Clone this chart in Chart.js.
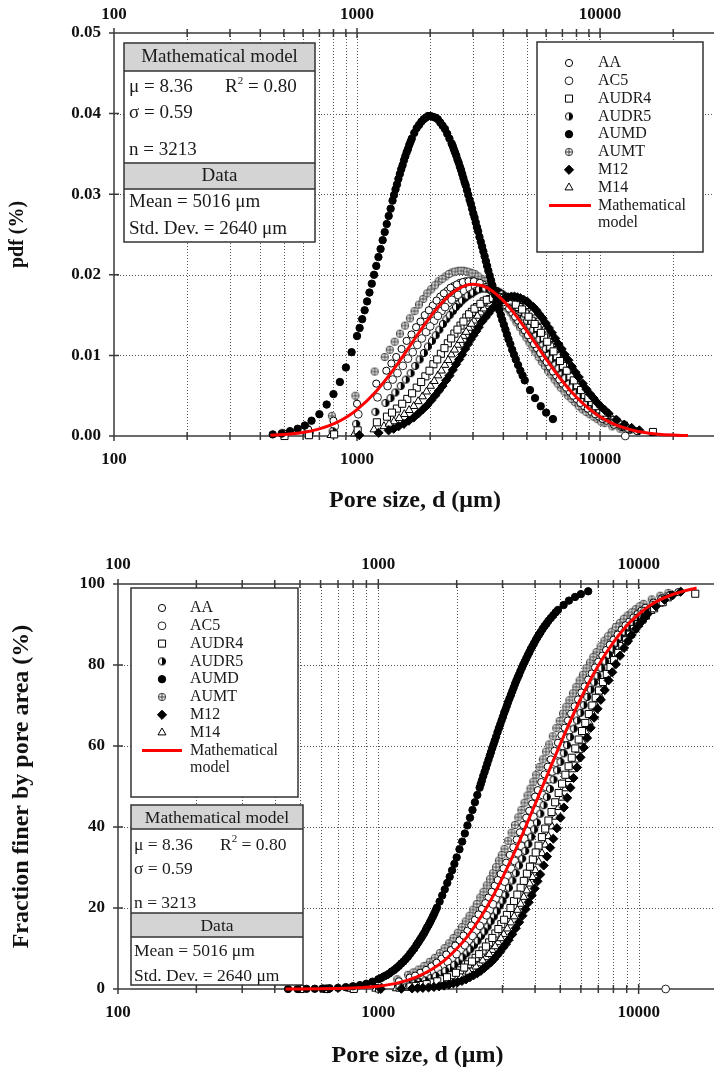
<!DOCTYPE html>
<html>
<head>
<meta charset="utf-8">
<script src="https://cdn.jsdelivr.net/npm/chart.js@4.4.1/dist/chart.umd.min.js"></script>
<style>
  html, body { margin: 0; padding: 0; background: #fff; }
  body { width: 714px; height: 1070px; overflow: hidden; position: relative; }
  .panel { position: absolute; left: 0; }
  #pdfPanel { top: 0; }
  #cdfPanel { top: 540px; }
</style>
</head>
<body>
<div class="panel" id="pdfPanel"><canvas id="pdfChart" width="730" height="530"></canvas></div>
<div class="panel" id="cdfPanel"><canvas id="cdfChart" width="730" height="530"></canvas></div>
<script>
// pore sizes (um) of each sample, with pdf (%) and cumulative fraction finer (%)
const aumtD = [493, 621, 788, 985, 1182, 1300, 1428, 1576, 1724, 1872, 2019, 2167, 2315, 2463, 2610, 2758, 2906, 3054, 3251, 3448, 3645, 3842, 4039, 4285, 4531, 4827, 5122, 5418, 5762, 6107, 6501, 6895, 7388, 7880, 8471, 9062, 9752, 10441, 11229, 12116, 13002,
  1364, 1502, 1650, 1798, 1945, 2093, 2241, 2389, 2536, 2684, 2832, 2980, 3152, 3349, 3546, 3743, 3940, 4162, 4408, 4679, 4974, 5270, 5590, 5935, 6304, 6698, 7141, 7634, 8176, 8767, 9407, 10096];
const aumtPdf = [0.0004, 0.0010, 0.0025, 0.0050, 0.0080, 0.0098, 0.0117, 0.0137, 0.0155, 0.0170, 0.0182, 0.0192, 0.0198, 0.0203, 0.0205, 0.0205, 0.0203, 0.0201, 0.0195, 0.0189, 0.0181, 0.0172, 0.0164, 0.0153, 0.0141, 0.0128, 0.0116, 0.0104, 0.0092, 0.0081, 0.0070, 0.0060, 0.0050, 0.0042, 0.0033, 0.0027, 0.0021, 0.0016, 0.0012, 0.0009, 0.0007,
  0.0107, 0.0127, 0.0146, 0.0163, 0.0177, 0.0187, 0.0195, 0.0201, 0.0204, 0.0205, 0.0204, 0.0202, 0.0198, 0.0192, 0.0185, 0.0177, 0.0168, 0.0158, 0.0147, 0.0135, 0.0122, 0.0110, 0.0098, 0.0087, 0.0076, 0.0065, 0.0055, 0.0046, 0.0037, 0.0030, 0.0024, 0.0018];
const aumtCdf = [0.03, 0.11, 0.40, 1.1, 2.4, 3.5, 4.8, 6.7, 8.9, 11.3, 13.9, 16.7, 19.6, 22.6, 25.6, 28.6, 31.7, 34.6, 38.6, 42.4, 46.0, 49.5, 52.9, 56.7, 60.4, 64.4, 68.0, 71.3, 74.6, 77.6, 80.6, 83.2, 86.0, 88.2, 90.4, 92.2, 93.8, 95.1, 96.2, 97.1, 97.8,
  4.1, 5.7, 7.7, 10.1, 12.6, 15.3, 18.1, 21.0, 24.0, 27.1, 30.1, 33.1, 36.6, 40.5, 44.2, 47.8, 51.2, 54.8, 58.6, 62.4, 66.2, 69.7, 73.0, 76.2, 79.2, 82.0, 84.6, 87.1, 89.4, 91.4, 93.0, 94.5];

const aaD = [500, 630, 800, 1000, 1200, 1320, 1450, 1600, 1750, 1900, 2050, 2200, 2350, 2500, 2650, 2800, 2950, 3100, 3300, 3500, 3700, 3900, 4100, 4350, 4600, 4900, 5200, 5500, 5850, 6200, 6600, 7000, 7500, 8000, 8600, 9200, 9900, 10600, 11400, 12300, 13200, 14200,
  1385, 1525, 1675, 1825, 1975, 2125, 2275, 2425, 2575, 2725, 2875, 3025, 3200, 3400, 3600, 3800, 4000, 4225, 4475, 4750, 5050, 5350, 5675, 6025, 6400, 6800, 7250, 7750, 8300, 8900, 9550, 10250];
const aaPdf = [0.0003, 0.0008, 0.0019, 0.0040, 0.0065, 0.0081, 0.0098, 0.0118, 0.0135, 0.0150, 0.0162, 0.0173, 0.0180, 0.0186, 0.0190, 0.0192, 0.0192, 0.0191, 0.0188, 0.0183, 0.0177, 0.0170, 0.0162, 0.0153, 0.0143, 0.0131, 0.0120, 0.0109, 0.0097, 0.0086, 0.0075, 0.0065, 0.0055, 0.0046, 0.0037, 0.0030, 0.0024, 0.0019, 0.0014, 0.0011, 0.0008, 0.0006,
  0.0090, 0.0108, 0.0126, 0.0142, 0.0156, 0.0168, 0.0177, 0.0184, 0.0188, 0.0191, 0.0192, 0.0192, 0.0190, 0.0185, 0.0180, 0.0174, 0.0166, 0.0158, 0.0148, 0.0137, 0.0125, 0.0114, 0.0103, 0.0092, 0.0080, 0.0070, 0.0060, 0.0050, 0.0041, 0.0034, 0.0027, 0.0021];
const aaCdf = [0.02, 0.08, 0.30, 0.88, 1.9, 2.8, 4.0, 5.6, 7.5, 9.6, 12.0, 14.4, 17.1, 19.8, 22.6, 25.5, 28.4, 31.2, 35.0, 38.7, 42.3, 45.8, 49.1, 53.0, 56.7, 60.8, 64.5, 68.0, 71.5, 74.7, 77.9, 80.8, 83.7, 86.2, 88.7, 90.7, 92.6, 94.1, 95.4, 96.5, 97.3, 98.0,
  3.3, 4.7, 6.5, 8.5, 10.7, 13.2, 15.7, 18.4, 21.2, 24.0, 26.9, 29.8, 33.1, 36.9, 40.5, 44.0, 47.5, 51.1, 54.9, 58.8, 62.7, 66.3, 69.8, 73.2, 76.4, 79.4, 82.3, 85.0, 87.5, 89.8, 91.7, 93.4];

const ac5D = [638, 810, 1012, 1214, 1336, 1467, 1619, 1771, 1923, 2075, 2226, 2378, 2530, 2682, 2834, 2985, 3137, 3340, 3542, 3744, 3947, 4149, 4402, 4655, 4959, 5262, 5566, 5920, 6274, 6679, 7084, 7590, 8096, 8703, 9310, 10019, 10727, 11537, 12448, 13358, 12700,
  1402, 1543, 1695, 1847, 1999, 2151, 2302, 2454, 2606, 2758, 2910, 3061, 3238, 3441, 3643, 3846, 4048, 4276, 4529, 4807, 5111, 5414, 5743, 6097, 6477, 6882, 7337, 7843, 8400, 9007, 9665, 10373];
const ac5Pdf = [0.0004, 0.0012, 0.0027, 0.0048, 0.0062, 0.0078, 0.0096, 0.0113, 0.0129, 0.0143, 0.0155, 0.0165, 0.0172, 0.0178, 0.0182, 0.0184, 0.0185, 0.0184, 0.0181, 0.0177, 0.0171, 0.0165, 0.0157, 0.0147, 0.0136, 0.0125, 0.0114, 0.0102, 0.0091, 0.0080, 0.0070, 0.0058, 0.0049, 0.0040, 0.0032, 0.0025, 0.0020, 0.0015, 0.0011, 0.0008, 0,
  0.0070, 0.0087, 0.0104, 0.0121, 0.0136, 0.0149, 0.0160, 0.0169, 0.0175, 0.0180, 0.0183, 0.0185, 0.0185, 0.0183, 0.0179, 0.0174, 0.0168, 0.0161, 0.0152, 0.0142, 0.0131, 0.0120, 0.0108, 0.0097, 0.0085, 0.0075, 0.0064, 0.0054, 0.0044, 0.0036, 0.0029, 0.0022];
const ac5Cdf = [0.04, 0.17, 0.56, 1.3, 2.0, 2.9, 4.2, 5.8, 7.6, 9.7, 11.9, 14.4, 16.9, 19.5, 22.3, 25.1, 27.9, 31.6, 35.3, 38.9, 42.5, 45.9, 49.9, 53.7, 58.0, 61.9, 65.7, 69.4, 72.8, 76.3, 79.3, 82.6, 85.3, 88.0, 90.1, 92.1, 93.8, 95.2, 96.3, 97.2, 0,
  2.4, 3.5, 5.0, 6.7, 8.6, 10.8, 13.1, 15.6, 18.2, 20.9, 23.7, 26.5, 29.7, 33.5, 37.1, 40.7, 44.2, 47.9, 51.8, 55.9, 60.0, 63.8, 67.6, 71.2, 74.6, 77.9, 81.0, 84.0, 86.7, 89.1, 91.2, 93.0];

const audr5D = [625, 794, 992, 1190, 1309, 1438, 1587, 1736, 1885, 2034, 2182, 2331, 2480, 2629, 2778, 2926, 3075, 3274, 3472, 3670, 3869, 4067, 4315, 4563, 4861, 5158, 5456, 5803, 6150, 6547, 6944, 7440, 7936, 8531, 9126, 9821, 10515, 11309, 12202, 13094,
  1374, 1513, 1662, 1810, 1959, 2108, 2257, 2406, 2554, 2703, 2852, 3001, 3174, 3373, 3571, 3770, 3968, 4191, 4439, 4712, 5010, 5307, 5630, 5977, 6349, 6746, 7192, 7688, 8234, 8829, 9474, 10168];
const audr5Pdf = [0.0002, 0.0006, 0.0015, 0.0030, 0.0041, 0.0054, 0.0070, 0.0087, 0.0103, 0.0118, 0.0132, 0.0145, 0.0155, 0.0164, 0.0171, 0.0176, 0.0180, 0.0183, 0.0183, 0.0181, 0.0178, 0.0173, 0.0167, 0.0159, 0.0148, 0.0137, 0.0126, 0.0114, 0.0102, 0.0090, 0.0079, 0.0066, 0.0056, 0.0045, 0.0037, 0.0029, 0.0022, 0.0017, 0.0012, 0.0009,
  0.0047, 0.0062, 0.0078, 0.0095, 0.0111, 0.0125, 0.0139, 0.0150, 0.0160, 0.0168, 0.0174, 0.0178, 0.0182, 0.0183, 0.0182, 0.0180, 0.0176, 0.0170, 0.0163, 0.0154, 0.0143, 0.0132, 0.0120, 0.0108, 0.0096, 0.0084, 0.0072, 0.0061, 0.0050, 0.0041, 0.0032, 0.0025];
const audr5Cdf = [0.01, 0.07, 0.26, 0.70, 1.1, 1.7, 2.7, 3.8, 5.2, 6.9, 8.8, 10.8, 13.1, 15.4, 17.9, 20.6, 23.2, 26.8, 30.5, 34.1, 37.6, 41.1, 45.4, 49.4, 54.0, 58.2, 62.2, 66.3, 70.1, 73.9, 77.3, 80.9, 83.9, 86.9, 89.3, 91.6, 93.4, 94.9, 96.2, 97.1,
  1.4, 2.1, 3.2, 4.5, 6.0, 7.8, 9.8, 11.9, 14.2, 16.7, 19.2, 21.8, 25.0, 28.6, 32.2, 35.8, 39.4, 43.3, 47.4, 51.7, 56.1, 60.2, 64.3, 68.2, 72.1, 75.7, 79.2, 82.5, 85.5, 88.2, 90.5, 92.5];

const audr4D = [503, 634, 805, 1006, 1207, 1328, 1459, 1610, 1761, 1911, 2062, 2213, 2364, 2515, 2666, 2817, 2968, 3119, 3320, 3521, 3722, 3923, 4125, 4376, 4628, 4929, 5231, 5533, 5885, 6237, 6640, 7042, 7545, 8048, 8652, 9255, 9959, 10664, 11468, 12374, 16500,
  1393, 1534, 1685, 1836, 1987, 2138, 2289, 2440, 2590, 2741, 2892, 3043, 3219, 3420, 3622, 3823, 4024, 4250, 4502, 4779, 5080, 5382, 5709, 6061, 6438, 6841, 7294, 7797, 8350, 8953, 9607, 10312];
const audr4Pdf = [0, 0.0001, 0.0002, 0.0007, 0.0017, 0.0024, 0.0034, 0.0046, 0.0060, 0.0074, 0.0089, 0.0102, 0.0115, 0.0127, 0.0137, 0.0147, 0.0154, 0.0160, 0.0167, 0.0170, 0.0172, 0.0172, 0.0170, 0.0166, 0.0160, 0.0152, 0.0143, 0.0134, 0.0122, 0.0111, 0.0099, 0.0087, 0.0074, 0.0063, 0.0051, 0.0042, 0.0033, 0.0026, 0.0020, 0.0014, 0.0005,
  0.0029, 0.0040, 0.0053, 0.0067, 0.0081, 0.0095, 0.0109, 0.0121, 0.0132, 0.0142, 0.0151, 0.0158, 0.0164, 0.0169, 0.0171, 0.0172, 0.0171, 0.0168, 0.0163, 0.0157, 0.0148, 0.0139, 0.0128, 0.0117, 0.0105, 0.0093, 0.0081, 0.0069, 0.0057, 0.0047, 0.0037, 0.0029];
const audr4Cdf = [0, 0, 0.03, 0.12, 0.35, 0.60, 0.97, 1.6, 2.4, 3.4, 4.6, 6.1, 7.7, 9.5, 11.5, 13.7, 16.0, 18.3, 21.7, 25.0, 28.5, 32.0, 35.4, 39.6, 43.7, 48.4, 52.9, 57.1, 61.6, 65.7, 70.0, 73.7, 77.8, 81.2, 84.7, 87.5, 90.1, 92.2, 94.0, 95.5, 97.6,
  0.76, 1.2, 1.9, 2.9, 4.0, 5.3, 6.8, 8.6, 10.5, 12.6, 14.8, 17.1, 20.0, 23.3, 26.7, 30.2, 33.7, 37.5, 41.6, 46.1, 50.7, 55.0, 59.4, 63.7, 67.9, 71.9, 75.8, 79.5, 83.0, 86.1, 88.9, 91.2];

const m14D = [782, 978, 1174, 1291, 1418, 1565, 1712, 1858, 2005, 2152, 2298, 2445, 2592, 2738, 2885, 3032, 3227, 3423, 3619, 3814, 4010, 4254, 4499, 4792, 5086, 5379, 5721, 6064, 6455, 6846, 7335, 7824, 8411, 8998, 9682, 10367, 11149, 12029, 12910,
  1355, 1491, 1638, 1785, 1932, 2078, 2225, 2372, 2518, 2665, 2812, 2958, 3130, 3325, 3521, 3716, 3912, 4132, 4377, 4646, 4939, 5232, 5550, 5892, 6259, 6650, 7091, 7580, 8117, 8704, 9340, 10025];
const m14Pdf = [0.0001, 0.0003, 0.0008, 0.0012, 0.0018, 0.0027, 0.0037, 0.0049, 0.0062, 0.0075, 0.0088, 0.0101, 0.0113, 0.0124, 0.0134, 0.0143, 0.0153, 0.0161, 0.0167, 0.0170, 0.0172, 0.0171, 0.0169, 0.0164, 0.0157, 0.0148, 0.0138, 0.0127, 0.0114, 0.0102, 0.0087, 0.0075, 0.0061, 0.0050, 0.0039, 0.0031, 0.0023, 0.0017, 0.0012,
  0.0015, 0.0022, 0.0032, 0.0043, 0.0055, 0.0068, 0.0081, 0.0094, 0.0107, 0.0119, 0.0129, 0.0139, 0.0149, 0.0158, 0.0164, 0.0169, 0.0171, 0.0172, 0.0171, 0.0167, 0.0161, 0.0153, 0.0143, 0.0132, 0.0120, 0.0108, 0.0094, 0.0081, 0.0068, 0.0055, 0.0044, 0.0035];
const m14Cdf = [0.01, 0.04, 0.13, 0.25, 0.43, 0.76, 1.2, 1.9, 2.7, 3.7, 4.9, 6.3, 7.8, 9.6, 11.5, 13.5, 16.4, 19.5, 22.7, 26.0, 29.3, 33.5, 37.7, 42.5, 47.2, 51.8, 56.6, 61.1, 65.8, 70.1, 74.7, 78.6, 82.6, 85.8, 88.8, 91.2, 93.3, 95.1, 96.4,
  0.33, 0.58, 0.97, 1.5, 2.2, 3.1, 4.2, 5.5, 7.0, 8.6, 10.5, 12.5, 14.9, 17.9, 21.0, 24.3, 27.6, 31.4, 35.6, 40.1, 44.9, 49.5, 54.2, 58.9, 63.5, 68.0, 72.4, 76.7, 80.7, 84.3, 87.4, 90.1];

const m12D = [1022, 1226, 1349, 1482, 1635, 1789, 1942, 2095, 2248, 2402, 2555, 2708, 2862, 3015, 3168, 3373, 3577, 3781, 3986, 4190, 4446, 4701, 5008, 5314, 5621, 5979, 6336, 6745, 7154, 7665, 8176, 8789, 9402, 10118, 10833, 11651, 12571, 13490, 14512,
  1415, 1559, 1712, 1865, 2018, 2172, 2325, 2478, 2632, 2785, 2938, 3092, 3270, 3475, 3679, 3884, 4088, 4318, 4573, 4855, 5161, 5468, 5800, 6158, 6541, 6950, 7410, 7921, 8483, 9096, 9760, 10476];
const m12Pdf = [0.0001, 0.0004, 0.0007, 0.0012, 0.0019, 0.0028, 0.0038, 0.0050, 0.0062, 0.0075, 0.0089, 0.0101, 0.0114, 0.0125, 0.0135, 0.0147, 0.0157, 0.0164, 0.0169, 0.0172, 0.0173, 0.0171, 0.0167, 0.0160, 0.0151, 0.0140, 0.0128, 0.0114, 0.0101, 0.0086, 0.0073, 0.0058, 0.0047, 0.0036, 0.0028, 0.0020, 0.0014, 0.0010, 0.0007,
  0.0009, 0.0015, 0.0023, 0.0033, 0.0044, 0.0056, 0.0069, 0.0082, 0.0095, 0.0108, 0.0120, 0.0130, 0.0142, 0.0152, 0.0161, 0.0167, 0.0171, 0.0173, 0.0172, 0.0169, 0.0163, 0.0156, 0.0146, 0.0134, 0.0121, 0.0108, 0.0094, 0.0079, 0.0065, 0.0052, 0.0041, 0.0032];
const m12Cdf = [0.02, 0.07, 0.14, 0.27, 0.50, 0.85, 1.4, 2.0, 2.9, 3.9, 5.2, 6.6, 8.3, 10.2, 12.1, 15.0, 18.1, 21.4, 24.8, 28.3, 32.7, 37.1, 42.3, 47.2, 52.1, 57.2, 62.0, 67.0, 71.4, 76.2, 80.2, 84.2, 87.4, 90.3, 92.6, 94.5, 96.1, 97.2, 98.1,
  0.20, 0.37, 0.66, 1.1, 1.7, 2.4, 3.4, 4.5, 5.9, 7.4, 9.2, 11.1, 13.5, 16.5, 19.7, 23.1, 26.6, 30.5, 34.9, 39.7, 44.8, 49.7, 54.7, 59.6, 64.5, 69.2, 73.8, 78.2, 82.3, 85.9, 88.9, 91.5];

const aumdD = [450, 490, 530, 570, 610, 650, 700, 750, 800, 850, 900, 950, 1000, 1050, 1100, 1150, 1200, 1250, 1300, 1350, 1400, 1440, 1480, 1520, 1560, 1600, 1640, 1680, 1720, 1760, 1800, 1840, 1880, 1920, 1960, 2000, 2050, 2100, 2150, 2200, 2250, 2300, 2350, 2400, 2450, 2500, 2560, 2620, 2680, 2740, 2800, 2870, 2940, 3010, 3080, 3150, 3230, 3310, 3390, 3470, 3560, 3650, 3750, 3850, 3960, 4080, 4200, 4350, 4500, 4700, 4900, 5150, 5400, 5700, 6000, 6400,
  1025, 1075, 1125, 1175, 1225, 1275, 1325, 1375, 1420, 1460, 1500, 1540, 1580, 1620, 1660, 2475, 2530, 2590, 2650, 2710, 2770, 2835, 2905, 2975, 3045, 3115, 3190, 3270, 3350, 3430, 3515, 3605, 3700, 3800, 3905, 4020, 4140, 4275, 4425, 4600, 4800];
const aumdPdf = [0.0002, 0.0003, 0.0006, 0.0009, 0.0013, 0.0019, 0.0027, 0.0039, 0.0052, 0.0067, 0.0085, 0.0104, 0.0124, 0.0145, 0.0167, 0.0189, 0.0211, 0.0232, 0.0253, 0.0273, 0.0292, 0.0306, 0.0319, 0.0331, 0.0342, 0.0352, 0.0361, 0.0369, 0.0376, 0.0382, 0.0386, 0.0390, 0.0393, 0.0395, 0.0397, 0.0397, 0.0396, 0.0395, 0.0393, 0.0389, 0.0385, 0.0381, 0.0375, 0.0369, 0.0363, 0.0356, 0.0348, 0.0339, 0.0330, 0.0320, 0.0311, 0.0299, 0.0288, 0.0276, 0.0265, 0.0254, 0.0241, 0.0229, 0.0217, 0.0205, 0.0193, 0.0181, 0.0168, 0.0156, 0.0144, 0.0132, 0.0120, 0.0107, 0.0095, 0.0081, 0.0069, 0.0057, 0.0047, 0.0037, 0.0029, 0.0021,
  0.0134, 0.0156, 0.0178, 0.0200, 0.0222, 0.0243, 0.0263, 0.0282, 0.0299, 0.0312, 0.0325, 0.0336, 0.0347, 0.0356, 0.0365, 0.0360, 0.0352, 0.0343, 0.0334, 0.0325, 0.0315, 0.0305, 0.0293, 0.0282, 0.0271, 0.0259, 0.0247, 0.0235, 0.0223, 0.0211, 0.0199, 0.0187, 0.0175, 0.0162, 0.0150, 0.0138, 0.0126, 0.0114, 0.0101, 0.0088, 0.0075];
const aumdCdf = [0, 0.02, 0.04, 0.06, 0.11, 0.17, 0.28, 0.45, 0.67, 0.96, 1.3, 1.8, 2.4, 3.1, 3.8, 4.7, 5.7, 6.8, 8.0, 9.4, 10.8, 12.0, 13.2, 14.5, 15.8, 17.2, 18.6, 20.1, 21.6, 23.1, 24.6, 26.2, 27.7, 29.3, 30.9, 32.5, 34.5, 36.4, 38.4, 40.4, 42.3, 44.2, 46.1, 47.9, 49.7, 51.5, 53.6, 55.6, 57.6, 59.5, 61.3, 63.4, 65.3, 67.2, 69.0, 70.8, 72.6, 74.4, 76.1, 77.6, 79.3, 80.8, 82.4, 83.9, 85.3, 86.8, 88.1, 89.6, 90.9, 92.3, 93.6, 94.8, 95.9, 96.8, 97.5, 98.2,
  2.7, 3.4, 4.3, 5.2, 6.3, 7.4, 8.7, 10.0, 11.4, 12.6, 13.8, 15.2, 16.5, 17.9, 19.4, 50.6, 52.6, 54.6, 56.6, 58.5, 60.4, 62.3, 64.4, 66.3, 68.2, 69.9, 71.7, 73.5, 75.3, 76.9, 78.5, 80.1, 81.6, 83.1, 84.6, 86.1, 87.5, 88.9, 90.2, 91.6, 93.0];

// fitted lognormal (mu = 8.36, sigma = 0.59)
const modelPdfD = [440, 500, 600, 700, 800, 900, 1000, 1200, 1400, 1600, 1800, 2000, 2200, 2500, 2800, 3000, 3300, 3600, 4000, 4500, 5000, 5500, 6000, 7000, 8000, 9000, 10000, 11000, 12000, 13500, 15000, 17000, 20000, 23000];
const modelPdf = [0.00009, 0.00018, 0.00044, 0.00088, 0.0015, 0.0023, 0.00327, 0.00556, 0.00807, 0.01057, 0.01284, 0.01477, 0.01632, 0.0179, 0.01868, 0.01883, 0.01861, 0.018, 0.0168, 0.01497, 0.01305, 0.01122, 0.00955, 0.0068, 0.0048, 0.00339, 0.00239, 0.0017, 0.00122, 0.00075, 0.00047, 0.00026, 0.00011, 0.00005];
const modelCdfD = [440, 500, 600, 700, 800, 900, 1000, 1200, 1400, 1600, 1800, 2000, 2200, 2500, 2800, 3000, 3300, 3600, 4000, 4500, 5000, 5500, 6000, 7000, 8000, 9000, 10000, 11000, 12000, 13500, 15000, 16700];
const modelCdf = [0.01, 0.01, 0.04, 0.11, 0.23, 0.41, 0.69, 1.57, 2.93, 4.80, 7.15, 9.92, 13.0, 18.2, 23.7, 27.5, 33.1, 38.6, 45.6, 53.5, 60.5, 66.6, 71.8, 79.9, 85.6, 89.7, 92.5, 94.6, 96.0, 97.4, 98.3, 99.0];

const seriesNames = ['AA', 'AC5', 'AUDR4', 'AUDR5', 'AUMD', 'AUMT', 'M12', 'M14'];
const decadeLabels = [100, 1000, 10000];
const pdfYTicks = [0, 0.01, 0.02, 0.03, 0.04, 0.05];
const cdfYTicks = [0, 20, 40, 60, 80, 100];

const statTitle = 'Mathematical model';
const statDataTitle = 'Data';
const statMu = 'μ = 8.36';
const statR2 = ['R', '2', ' = 0.80'];
const statSigma = 'σ = 0.59';
const statN = 'n = 3213';
const statMean = 'Mean = 5016 μm';
const statStd = 'Std. Dev. = 2640 μm';
const modelLabel = ['Mathematical', 'model'];

const serif = '"Liberation Serif", "Times New Roman", serif';
Chart.defaults.font.family = serif;
Chart.defaults.color = '#111';

function markerCanvas(draw) {
  const c = document.createElement('canvas');
  c.width = 10; c.height = 10;
  draw(c.getContext('2d'));
  return c;
}

// half filled disc
const halfDisc = markerCanvas(g => {
  g.beginPath(); g.arc(5, 5, 3.6, 0, Math.PI * 2); g.fillStyle = '#fff'; g.fill();
  g.beginPath(); g.moveTo(5, 5); g.arc(5, 5, 3.6, -Math.PI / 2, Math.PI / 2); g.closePath();
  g.fillStyle = '#000'; g.fill();
  g.beginPath(); g.arc(5, 5, 3.6, 0, Math.PI * 2); g.lineWidth = 1; g.strokeStyle = '#000'; g.stroke();
});

// circle with a cross
const crossDisc = markerCanvas(g => {
  g.beginPath(); g.arc(5, 5, 3.7, 0, Math.PI * 2); g.fillStyle = '#e8e8e8'; g.fill();
  g.lineWidth = 1; g.strokeStyle = '#444'; g.stroke();
  g.beginPath(); g.moveTo(2, 5); g.lineTo(8, 5); g.moveTo(5, 2); g.lineTo(5, 8); g.stroke();
});

const markerStyles = {
  AA:    { pointStyle: 'circle',   radius: 3.6, fill: '#fff', stroke: '#000' },
  AC5:   { pointStyle: 'circle',   radius: 3.9, fill: '#fff', stroke: '#222' },
  AUDR4: { pointStyle: 'rect',     radius: 5.0, fill: '#fff', stroke: '#000' },
  AUDR5: { pointStyle: halfDisc,   radius: 4,   fill: '#000', stroke: '#000' },
  AUMD:  { pointStyle: 'circle',   radius: 3.7, fill: '#000', stroke: '#000' },
  AUMT:  { pointStyle: crossDisc,  radius: 4,   fill: '#888', stroke: '#444' },
  M12:   { pointStyle: 'rectRot',  radius: 4.6, fill: '#000', stroke: '#000' },
  M14:   { pointStyle: 'triangle', radius: 4.6, fill: '#fff', stroke: '#000' }
};

const pdfSeries = {
  AA: [aaD, aaPdf], AC5: [ac5D, ac5Pdf], AUDR4: [audr4D, audr4Pdf], AUDR5: [audr5D, audr5Pdf],
  AUMD: [aumdD, aumdPdf], AUMT: [aumtD, aumtPdf], M12: [m12D, m12Pdf], M14: [m14D, m14Pdf]
};
const cdfSeries = {
  AA: [aaD, aaCdf], AC5: [ac5D, ac5Cdf], AUDR4: [audr4D, audr4Cdf], AUDR5: [audr5D, audr5Cdf],
  AUMD: [aumdD, aumdCdf], AUMT: [aumtD, aumtCdf], M12: [m12D, m12Cdf], M14: [m14D, m14Cdf]
};

// fixed pixel layout of the boxes inside each canvas
const boxLayouts = {
  pdfChart: {
    stat: { l: 124, t: 43, r: 315, b: 242, hdrB: 71, dataT: 163, dataB: 189, textX: 129, r2X: 225, font: 19,
            rows: { title: 57, mu: 87, sigma: 113, n: 150, data: 176, mean: 202, std: 229 } },
    legend: { l: 537, t: 42, r: 703, b: 252, markX: 569, textX: 598, rowY0: 63, rowDy: 17.8, lineX0: 549, lineX1: 591, font: 16 }
  },
  cdfChart: {
    stat: { l: 131, t: 265, r: 303, b: 445, hdrB: 289, dataT: 373, dataB: 397, textX: 134, r2X: 220, font: 17.5,
            rows: { title: 278, mu: 305, sigma: 329, n: 363, data: 386, mean: 411, std: 436 } },
    legend: { l: 131, t: 48, r: 298, b: 257, markX: 162, textX: 190, rowY0: 68, rowDy: 17.8, lineX0: 142, lineX1: 182, font: 16 }
  }
};

function pts(xs, ys) {
  return xs.map((d, i) => ({ x: d, y: ys[i] }));
}

function scatterSet(name, pair, order) {
  const st = markerStyles[name];
  return {
    label: name,
    data: pts(pair[0], pair[1]),
    showLine: false,
    clip: false,
    order: order,
    pointStyle: st.pointStyle,
    pointRadius: st.radius,
    pointBackgroundColor: st.fill,
    pointBorderColor: st.stroke,
    pointBorderWidth: 1
  };
}

function modelSet(xs, ys) {
  return {
    label: modelLabel.join(' '),
    data: pts(xs, ys),
    showLine: true,
    borderColor: '#ff0000',
    borderWidth: 3,
    pointRadius: 0,
    cubicInterpolationMode: 'monotone',
    fill: false,
    clip: false,
    order: 0
  };
}

function buildSets(table, modelXs, modelYs) {
  const drawOrder = { AUMD: 1, M12: 2, AUDR4: 3, M14: 3, AUDR5: 4, AC5: 5, AA: 5, AUMT: 6 };
  const sets = [modelSet(modelXs, modelYs)];
  seriesNames.forEach(n => sets.push(scatterSet(n, table[n], drawOrder[n])));
  return sets;
}

function logTickValues(max) {
  const out = [];
  for (let p = 100; p <= max; p *= 10) {
    for (let k = 1; k <= 9; k++) {
      if (k * p <= max) out.push(k * p);
    }
  }
  return out;
}

const tickFont = { size: 17, weight: 'bold' };

function xAxis(position, max, size, pad, title) {
  return {
    type: 'logarithmic',
    position: position,
    min: 100,
    max: max,
    grid: { display: false, drawTicks: false },
    border: { display: false },
    ticks: {
      autoSkip: false, maxRotation: 0, padding: pad, font: tickFont, color: '#111',
      callback: v => decadeLabels.includes(v) ? String(v) : ''
    },
    afterBuildTicks: s => { s.ticks = logTickValues(max).map(v => ({ value: v })); },
    afterFit: s => { s.height = size; },
    title: title ? {
      display: true, text: title.text, color: '#111',
      font: { size: 24, weight: 'bold' },
      padding: { top: 0, bottom: title.bottom }
    } : { display: false }
  };
}

function yAxis(tickValues, fmt, width, pad, text, titleSize, titlePad) {
  return {
    type: 'linear',
    position: 'left',
    min: 0,
    max: tickValues[tickValues.length - 1],
    grid: { display: false, drawTicks: false },
    border: { display: false },
    ticks: { padding: pad, font: tickFont, color: '#111', callback: v => fmt(v) },
    afterBuildTicks: s => { s.ticks = tickValues.map(v => ({ value: v })); },
    afterFit: s => { s.width = width; },
    title: {
      display: true, text: text, color: '#111',
      font: { size: titleSize, weight: 'bold' },
      padding: { top: titlePad, bottom: 0 }
    }
  };
}

function drawMarker(ctx, st, x, y) {
  if (st.pointStyle instanceof HTMLCanvasElement) {
    const c = st.pointStyle;
    ctx.drawImage(c, x - c.width / 2, y - c.height / 2);
    return;
  }
  const r = st.radius;
  ctx.beginPath();
  if (st.pointStyle === 'circle') {
    ctx.arc(x, y, r, 0, Math.PI * 2);
  } else if (st.pointStyle === 'rect') {
    const s = r * Math.SQRT1_2;
    ctx.rect(x - s, y - s, 2 * s, 2 * s);
  } else if (st.pointStyle === 'rectRot') {
    ctx.moveTo(x, y - r); ctx.lineTo(x + r, y); ctx.lineTo(x, y + r); ctx.lineTo(x - r, y); ctx.closePath();
  } else if (st.pointStyle === 'triangle') {
    for (let i = 0; i < 3; i++) {
      const a = i * 2 * Math.PI / 3;
      const px = x + Math.sin(a) * r, py = y - Math.cos(a) * r;
      if (i === 0) ctx.moveTo(px, py); else ctx.lineTo(px, py);
    }
    ctx.closePath();
  }
  ctx.fillStyle = st.fill;
  ctx.fill();
  ctx.lineWidth = 1;
  ctx.strokeStyle = st.stroke;
  ctx.stroke();
}

function drawStatBox(ctx, b) {
  const w = b.r - b.l;
  ctx.save();
  ctx.fillStyle = '#fff';
  ctx.fillRect(b.l, b.t, w, b.b - b.t);
  ctx.fillStyle = '#d4d4d4';
  ctx.fillRect(b.l, b.t, w, b.hdrB - b.t);
  ctx.fillRect(b.l, b.dataT, w, b.dataB - b.dataT);
  ctx.strokeStyle = '#333';
  ctx.lineWidth = 1.5;
  ctx.strokeRect(b.l, b.t, w, b.b - b.t);
  ctx.beginPath();
  [b.hdrB, b.dataT, b.dataB].forEach(yy => { ctx.moveTo(b.l, yy); ctx.lineTo(b.r, yy); });
  ctx.stroke();

  const font = `${b.font}px ${serif}`;
  ctx.fillStyle = '#1a1a1a';
  ctx.font = font;
  ctx.textBaseline = 'middle';
  ctx.textAlign = 'center';
  ctx.fillText(statTitle, b.l + w / 2, b.rows.title);
  ctx.fillText(statDataTitle, b.l + w / 2, b.rows.data);
  ctx.textAlign = 'left';
  ctx.fillText(statMu, b.textX, b.rows.mu);
  let x = b.r2X;
  ctx.fillText(statR2[0], x, b.rows.mu);
  x += ctx.measureText(statR2[0]).width;
  ctx.font = `${Math.round(b.font * 0.6)}px ${serif}`;
  ctx.fillText(statR2[1], x, b.rows.mu - b.font * 0.33);
  x += ctx.measureText(statR2[1]).width;
  ctx.font = font;
  ctx.fillText(statR2[2], x, b.rows.mu);
  ctx.fillText(statSigma, b.textX, b.rows.sigma);
  ctx.fillText(statN, b.textX, b.rows.n);
  ctx.fillText(statMean, b.textX, b.rows.mean);
  ctx.fillText(statStd, b.textX, b.rows.std);
  ctx.restore();
}

function drawLegendBox(ctx, lg) {
  ctx.save();
  ctx.fillStyle = '#fff';
  ctx.fillRect(lg.l, lg.t, lg.r - lg.l, lg.b - lg.t);
  ctx.strokeStyle = '#333';
  ctx.lineWidth = 1.5;
  ctx.strokeRect(lg.l, lg.t, lg.r - lg.l, lg.b - lg.t);
  ctx.font = `${lg.font}px ${serif}`;
  ctx.textBaseline = 'middle';
  ctx.textAlign = 'left';
  seriesNames.forEach((name, i) => {
    const y = lg.rowY0 + i * lg.rowDy;
    drawMarker(ctx, markerStyles[name], lg.markX, y);
    ctx.fillStyle = '#1a1a1a';
    ctx.fillText(name, lg.textX, y);
  });
  const yLine = lg.rowY0 + seriesNames.length * lg.rowDy;
  ctx.strokeStyle = '#ff0000';
  ctx.lineWidth = 3;
  ctx.beginPath();
  ctx.moveTo(lg.lineX0, yLine);
  ctx.lineTo(lg.lineX1, yLine);
  ctx.stroke();
  ctx.fillStyle = '#1a1a1a';
  ctx.fillText(modelLabel[0], lg.textX, yLine);
  ctx.fillText(modelLabel[1], lg.textX, yLine + lg.rowDy);
  ctx.restore();
}

// dotted grid, axis lines with crossing ticks, then the two boxes on top
const frame = {
  id: 'frame',
  beforeDatasetsDraw(chart) {
    const { ctx, chartArea: a, scales: { x, y } } = chart;
    ctx.save();
    ctx.strokeStyle = '#555';
    ctx.lineWidth = 1;
    ctx.setLineDash([1, 2]);
    ctx.beginPath();
    x.ticks.forEach(t => {
      if (t.value <= x.min) return;
      const px = Math.round(x.getPixelForValue(t.value)) + 0.5;
      ctx.moveTo(px, a.top); ctx.lineTo(px, a.bottom);
    });
    y.ticks.forEach(t => {
      if (t.value <= y.min || t.value >= y.max) return;
      const py = Math.round(y.getPixelForValue(t.value)) + 0.5;
      ctx.moveTo(a.left, py); ctx.lineTo(a.right, py);
    });
    ctx.stroke();

    ctx.setLineDash([]);
    ctx.strokeStyle = '#3a3a3a';
    ctx.lineWidth = 1.5;
    ctx.beginPath();
    ctx.moveTo(a.left, a.top); ctx.lineTo(a.right, a.top);
    ctx.moveTo(a.left, a.bottom); ctx.lineTo(a.right, a.bottom);
    ctx.moveTo(a.left, a.top - 5); ctx.lineTo(a.left, a.bottom + 5);
    x.ticks.forEach(t => {
      const px = x.getPixelForValue(t.value);
      const h = decadeLabels.includes(t.value) ? 5 : 4;
      ctx.moveTo(px, a.top - h); ctx.lineTo(px, a.top + h);
      ctx.moveTo(px, a.bottom - h); ctx.lineTo(px, a.bottom + h);
    });
    y.ticks.forEach(t => {
      const py = y.getPixelForValue(t.value);
      ctx.moveTo(a.left - 5, py); ctx.lineTo(a.left + 5, py);
    });
    ctx.stroke();
    ctx.restore();
  },
  afterDatasetsDraw(chart) {
    const lay = boxLayouts[chart.canvas.id];
    drawStatBox(chart.ctx, lay.stat);
    drawLegendBox(chart.ctx, lay.legend);
  }
};

function baseOptions(padRight, scales) {
  return {
    responsive: false,
    animation: false,
    devicePixelRatio: 1,
    events: [],
    layout: { padding: { left: 0, top: 0, right: padRight, bottom: 0 } },
    plugins: { legend: { display: false }, tooltip: { enabled: false } },
    scales: scales
  };
}

new Chart(document.getElementById('pdfChart'), {
  type: 'scatter',
  data: { datasets: buildSets(pdfSeries, modelPdfD, modelPdf) },
  options: baseOptions(14, {
    x: xAxis('bottom', 30000, 94, 13, { text: 'Pore size, d (μm)', bottom: 15 }),
    x2: xAxis('top', 30000, 33, 8, null),
    y: yAxis(pdfYTicks, v => v.toFixed(2), 114, 13, 'pdf (%)', 20, 6)
  }),
  plugins: [frame]
});

new Chart(document.getElementById('cdfChart'), {
  type: 'scatter',
  data: { datasets: buildSets(cdfSeries, modelCdfD, modelCdf) },
  options: baseOptions(7, {
    x: xAxis('bottom', 20000, 81, 13, { text: 'Pore size, d (μm)', bottom: 0 }),
    x2: xAxis('top', 20000, 44, 9, null),
    y: yAxis(cdfYTicks, v => String(v), 118, 13, 'Fraction finer by pore area (%)', 24, 7)
  }),
  plugins: [frame]
});
</script>
</body>
</html>
